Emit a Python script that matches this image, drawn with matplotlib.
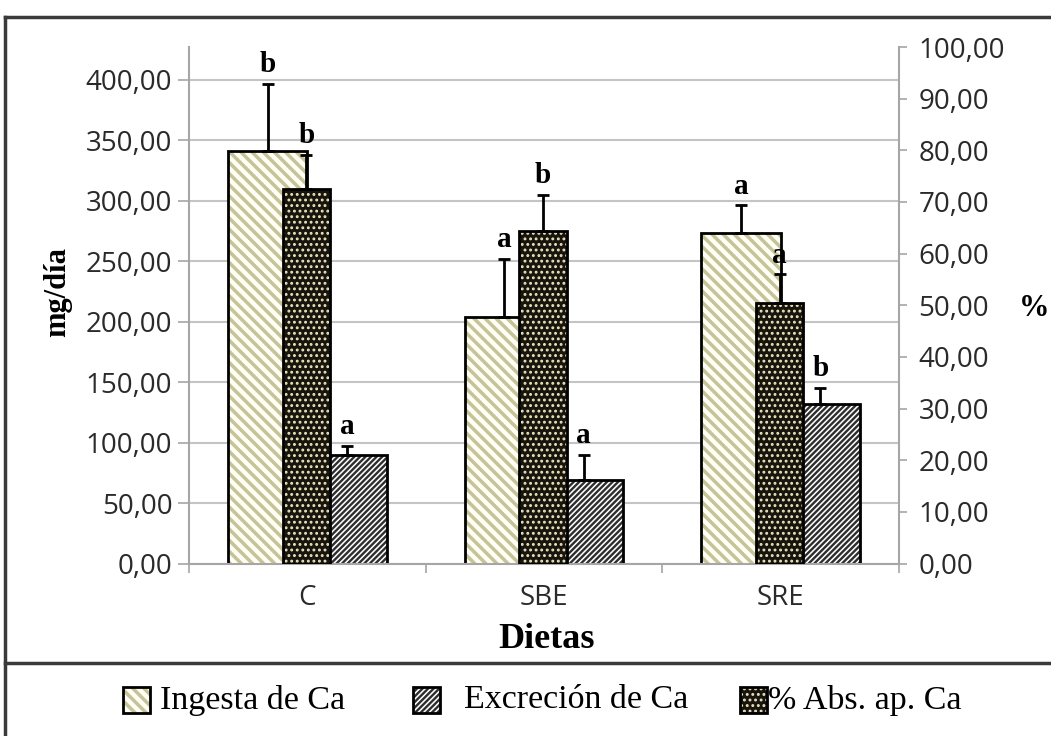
import matplotlib
matplotlib.use('Agg')
import matplotlib.pyplot as plt
import numpy as np
from matplotlib.patches import Rectangle
from matplotlib.lines import Line2D
from matplotlib.ticker import FuncFormatter

# data
dietas = ['C', 'SBE', 'SRE']
ingesta = [341.6, 203.6, 273.3]          # mg/día, left axis
ingesta_err = [55.4, 48.4, 23.0]
excrecion = [90.1, 69.4, 132.3]          # mg/día, left axis
excrecion_err = [7.4, 20.5, 13.2]
absorcion = [72.5, 64.3, 50.5]           # %, right axis
absorcion_err = [6.6, 7.1, 5.5]
letras_ingesta = ['b', 'a', 'a']
letras_excrecion = ['a', 'a', 'b']
letras_absorcion = ['b', 'b', 'a']
legend_labels = ['Ingesta de Ca', 'Excreción de Ca', '% Abs. ap. Ca']

W, H = 1051, 736
SERIF = 'Liberation Serif'
SANS = 'Open Sans'
GREY = '#a6a6a6'

# styles: face, hatch colour, hatch, hatch linewidth
st_ing = ('#fffff4', '#c6c29a', '\\' * 3, 2.5)
st_exc = ('#ffffff', '#2e2e2e', '/' * 6, 1.7)
st_abs = ('#17150d', '#ece5bc', '...', 1.3)

plt.rcParams['hatch.linewidth'] = 2.0

fig = plt.figure(figsize=(W / 100, H / 100), dpi=100)
ax = fig.add_axes([189 / W, 1 - 563.5 / H, 710 / W, 516.5 / H])
ax2 = ax.twinx()


def set_hlw(patches, lw):
    for p in patches:
        if hasattr(p, 'set_hatch_linewidth'):
            p.set_hatch_linewidth(lw)


def hatched_bar(axis, xs, hs, width, style):
    face, hcol, hatch, hlw = style
    bars = axis.bar(xs, hs, width, color=face, edgecolor=hcol, hatch=hatch, linewidth=0)
    set_hlw(bars, hlw)
    axis.bar(xs, hs, width, fill=False, edgecolor='black', linewidth=2)


x = np.arange(len(dietas))
w = 0.335
wa = 0.2
zeros = np.zeros(len(x))

hatched_bar(ax, x - w / 2, ingesta, w, st_ing)
hatched_bar(ax, x + w / 2, excrecion, w, st_exc)
hatched_bar(ax2, x - 0.004, absorcion, wa, st_abs)

eb = dict(fmt='none', ecolor='black', elinewidth=2, capsize=4.5, capthick=2)
ax.errorbar(x - w / 2, ingesta, yerr=[zeros, ingesta_err], **eb)
ax.errorbar(x + w / 2, excrecion, yerr=[zeros, excrecion_err], **eb)
ax2.errorbar(x - 0.004, absorcion, yerr=[zeros, absorcion_err], **eb)

lt = dict(textcoords='offset points', xytext=(0, 4), ha='center', va='bottom',
          fontsize=21, fontweight='bold', family=SERIF)
for i in range(len(x)):
    ax.annotate(letras_ingesta[i], (x[i] - w / 2, ingesta[i] + ingesta_err[i]), **lt)
    ax.annotate(letras_excrecion[i], (x[i] + w / 2, excrecion[i] + excrecion_err[i]), **lt)
    ax2.annotate(letras_absorcion[i], (x[i] - 0.004, absorcion[i] + absorcion_err[i]), **lt)

# axes
fmt = FuncFormatter(lambda v, p: ('%.2f' % v).replace('.', ','))
ax.set_xlim(-0.5, 2.5)
ax.set_ylim(0, 427.3)
ax2.set_ylim(0, 100)
ax.set_yticks(np.arange(0, 401, 50))
ax2.set_yticks(np.arange(0, 101, 10))
ax.yaxis.set_major_formatter(fmt)
ax2.yaxis.set_major_formatter(fmt)

ax.set_xticks([-0.5, 0.5, 1.5, 2.5])
ax.set_xticklabels([])
ax.set_xticks(x, minor=True)
ax.set_xticklabels(dietas, minor=True, fontsize=20, family=SANS, color='#2a2a2a')
ax.tick_params(axis='x', which='major', length=6.5, width=1.2, color=GREY)
ax.tick_params(axis='x', which='minor', length=0, pad=15)
ax.tick_params(axis='y', length=8, width=1.2, color=GREY, pad=4, labelsize=20, labelcolor='#2a2a2a')
ax2.tick_params(axis='y', length=6, width=1.2, color=GREY, pad=8, labelsize=20, labelcolor='#2a2a2a')
for lab in ax.get_yticklabels() + ax2.get_yticklabels():
    lab.set_family(SANS)

ax.yaxis.grid(True, color='#c4c4c4', linewidth=1.5)
ax.set_axisbelow(True)
for a in (ax, ax2):
    a.spines['top'].set_visible(False)
    for s in ('left', 'right', 'bottom'):
        a.spines[s].set_color(GREY)
        a.spines[s].set_linewidth(1.5)
ax.spines['right'].set_visible(False)
ax2.spines['left'].set_visible(False)
ax2.spines['bottom'].set_visible(False)

# axis titles
fig.text(58 / W, 1 - 292 / H, 'mg/día', rotation=90, ha='center', va='center',
         fontsize=22, fontweight='bold', family=SERIF)
fig.text(547 / W, 1 - 640 / H, 'Dietas', ha='center', va='center',
         fontsize=26, fontweight='bold', family=SERIF)
fig.text(1034 / W, 1 - 308 / H, '%', ha='center', va='center',
         fontsize=22, fontweight='bold', family=SERIF)

# chart frame (cut on the right like the original)
fc = '#3a3a3a'
fig.add_artist(Line2D([5 / W, 5 / W], [0, 1 - 17 / H], color=fc, lw=2.5))
fig.add_artist(Line2D([5 / W, 1], [1 - 17 / H, 1 - 17 / H], color=fc, lw=2.5))
fig.add_artist(Line2D([5 / W, 1], [1 - 663 / H, 1 - 663 / H], color=fc, lw=2.5))

# legend
icon_x = [123, 413, 740]
text_x = [160, 464, 768]
for st, ix, tx, lab in zip([st_ing, st_exc, st_abs], icon_x, text_x, legend_labels):
    face, hcol, hatch, hlw = st
    r = Rectangle((ix / W, 1 - 713 / H), 27 / W, 26 / H, transform=fig.transFigure,
                  facecolor=face, edgecolor=hcol, hatch=hatch, linewidth=0)
    set_hlw([r], hlw)
    fig.add_artist(r)
    fig.add_artist(Rectangle((ix / W, 1 - 713 / H), 27 / W, 26 / H, transform=fig.transFigure,
                             fill=False, edgecolor='black', linewidth=2))
    fig.text(tx / W, 1 - 700 / H, lab, ha='left', va='center', fontsize=24.5, family=SERIF)

fig.savefig('out.png', dpi=100)
